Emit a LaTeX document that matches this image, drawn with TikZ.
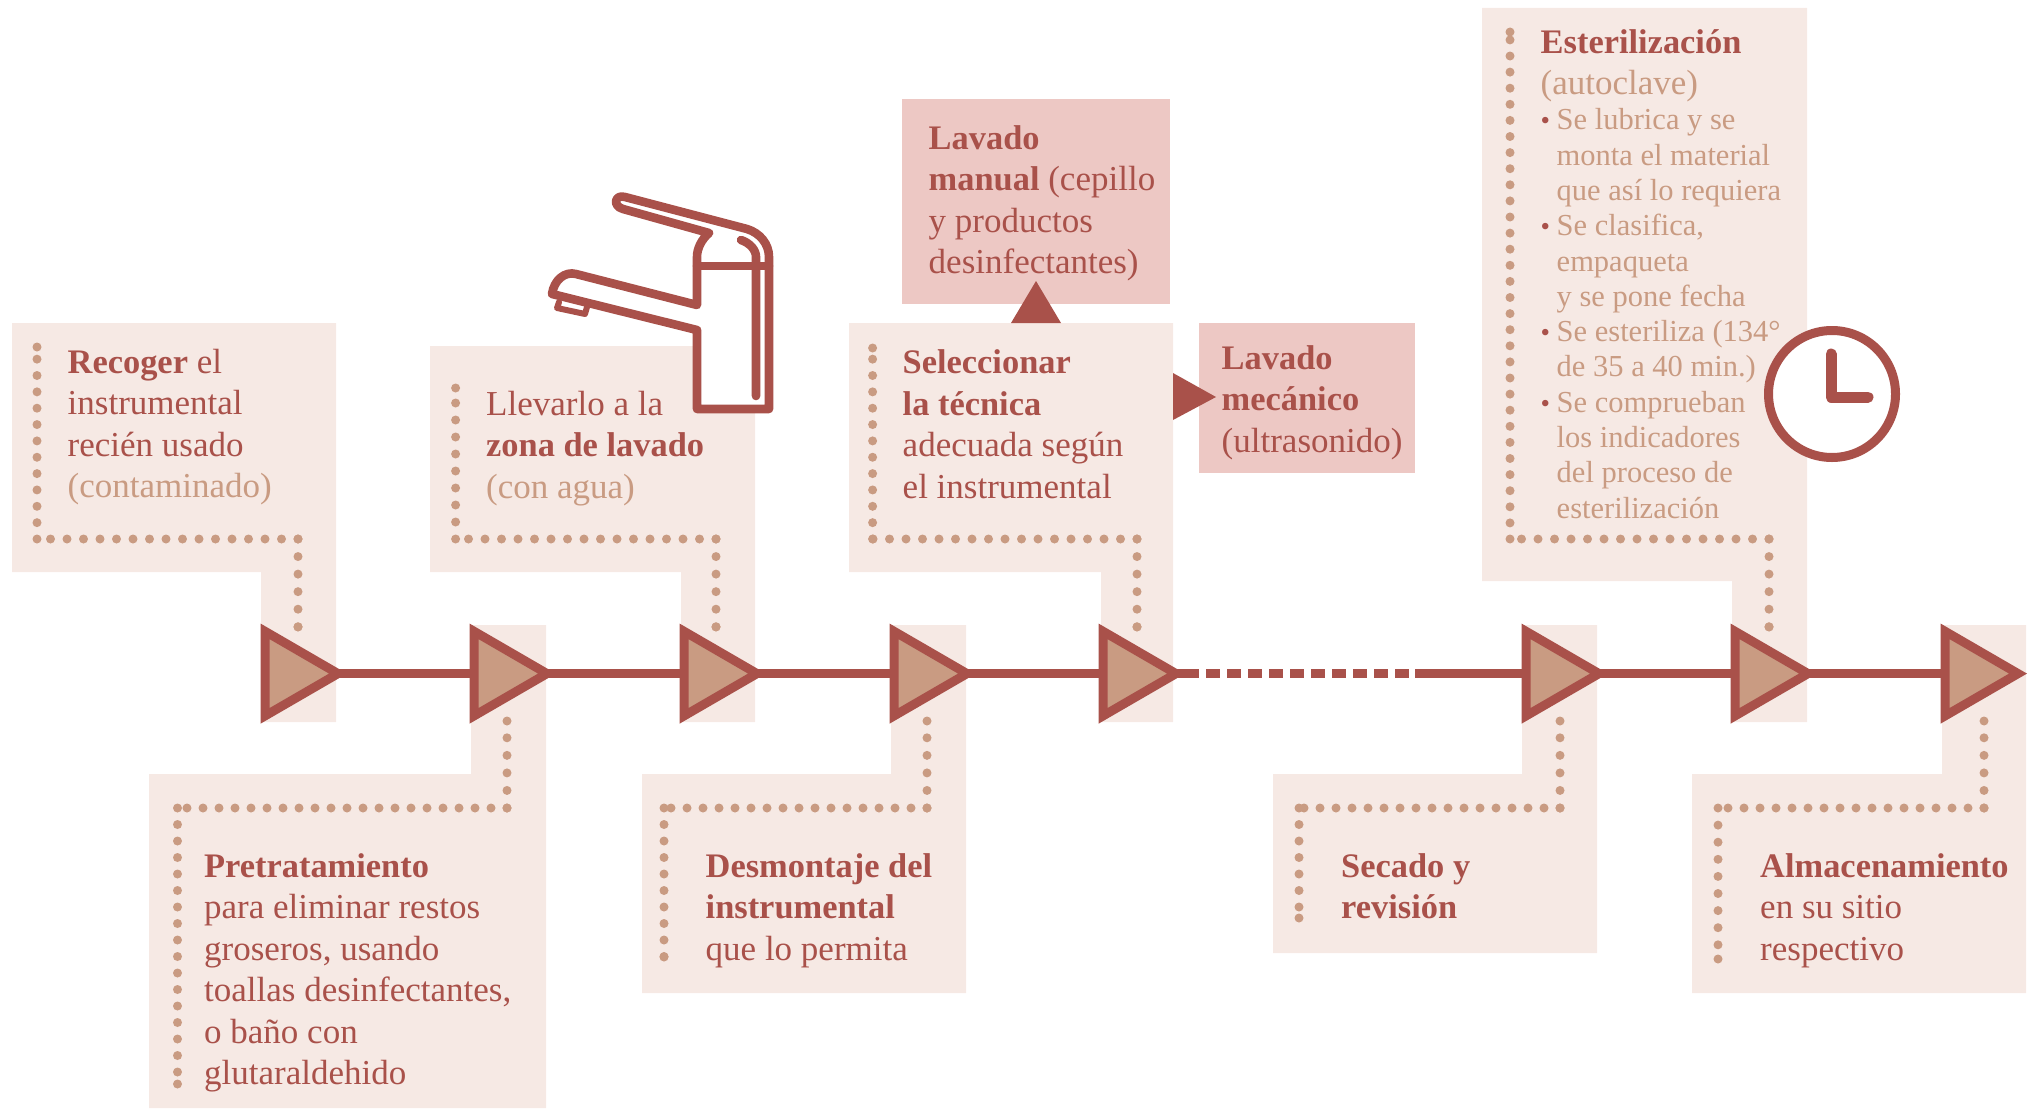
\documentclass[tikz,border=0pt]{standalone}
\usepackage{fontspec}
\setmainfont{Liberation Serif}
\usetikzlibrary{shapes.geometric}
\definecolor{rojo}{HTML}{A9514A}
\definecolor{tostado}{HTML}{C99B82}
\definecolor{fondo}{HTML}{F6E9E4}
\definecolor{rosa}{HTML}{EDC8C4}
\newcommand{\tost}[1]{\textcolor{tostado}{#1}}
\newcommand{\negr}[1]{{\fontsize{34.4}{41.5}\selectfont\bfseries #1}}
\newcommand{\vin}{\makebox[16pt][l]{\textcolor{rojo}{\fontsize{27}{22}\selectfont•}}}
\tikzset{
  paso/.style={shape=isosceles triangle,isosceles triangle stretches,shape border rotate=0,
    minimum width=84.6pt,minimum height=73pt,inner sep=0pt,outer sep=0pt,
    draw=rojo,line width=9pt,fill=tostado,anchor=lower side},
  linea/.style={draw=rojo,line width=8.3pt},
  puntos/.style={draw=tostado,line width=9pt,line cap=round,dash pattern=on 0pt off #1},
  texto/.style={anchor=north west,inner sep=0pt,align=left,text=rojo,
    font=\fontsize{35}{41.5}\selectfont},
  lista/.style={anchor=north west,inner sep=0pt,align=left,text=tostado,
    font=\fontsize{30.5}{35.3}\selectfont},
  icono/.style={draw=rojo,line width=8.6pt,line join=round,line cap=round}
}
% cadena de puntos: extremo, esquina, esquina, extremo, paso lateral, paso de la fila
\newcommand{\cadena}[6]{
  \draw[puntos=#5] #2 -- #1;
  \draw[puntos=#6] #3 -- #2;
  \draw[puntos=17.55pt] #3 -- #4;
  \fill[tostado] #1 circle (4.5) #4 circle (4.5);
}
\begin{document}
\begin{tikzpicture}[x=1pt,y=-1pt]
    \useasboundingbox (0,0) rectangle (2033,1108);

    % fondos
    \fill[fondo] (12,323) -- (336,323) -- (336,722) -- (261,722) -- (261,572) -- (12,572) -- cycle;
    \fill[fondo] (471,625) -- (546,625) -- (546,1108) -- (149,1108) -- (149,774) -- (471,774) -- cycle;
    \fill[fondo] (430,346) -- (755,346) -- (755,722) -- (681,722) -- (681,572) -- (430,572) -- cycle;
    \fill[fondo] (891,625) -- (966,625) -- (966,993) -- (642,993) -- (642,774) -- (891,774) -- cycle;
    \fill[fondo] (849,323) -- (1173,323) -- (1173,722) -- (1101,722) -- (1101,572) -- (849,572) -- cycle;
    \fill[fondo] (1522,625) -- (1597,625) -- (1597,953) -- (1273,953) -- (1273,774) -- (1522,774) -- cycle;
    \fill[fondo] (1482,8) -- (1807,8) -- (1807,722) -- (1732,722) -- (1732,581) -- (1482,581) -- cycle;
    \fill[fondo] (1942,625) -- (2026,625) -- (2026,993) -- (1692,993) -- (1692,774) -- (1942,774) -- cycle;
    \fill[rosa] (902,99) rectangle (1170,304);
    \fill[rosa] (1199,323) rectangle (1415,473);

    % triangulos pequenos
    \fill[rojo] (1011,323) -- (1036,281) -- (1061,323) -- cycle;
    \fill[rojo] (1173,373) -- (1216,397) -- (1173,420) -- cycle;

    % linea de tiempo
    \node[paso] (t1) at (265,673.6) {};
    \node[paso] (t2) at (474,673.6) {};
    \node[paso] (t3) at (684,673.6) {};
    \node[paso] (t4) at (894,673.6) {};
    \node[paso] (t5) at (1103,673.6) {};
    \node[paso] (t6) at (1526,673.6) {};
    \node[paso] (t7) at (1735,673.6) {};
    \node[paso] (t8) at (1945,673.6) {};

    \coordinate (corteA) at (1198.6,673.6);
    \coordinate (corteB) at (1206,673.6);
    \coordinate (corteC) at (1409,673.6);
    \coordinate (corteD) at (1415,673.6);

    \draw[linea] (t1.apex) -- (t2.lower side);
    \draw[linea] (t2.apex) -- (t3.lower side);
    \draw[linea] (t3.apex) -- (t4.lower side);
    \draw[linea] (t4.apex) -- (t5.lower side);
    \draw[linea] (t5.apex) -- (corteA);
    \draw[linea,dash pattern=on 14pt off 7pt] (corteB) -- (corteC);
    \draw[linea] (corteD) -- (t6.lower side);
    \draw[linea] (t6.apex) -- (t7.lower side);
    \draw[linea] (t7.apex) -- (t8.lower side);

    % puntos
    \cadena{(37,347)}{(37,539)}{(298,539)}{(298,627)}{16.35pt}{16.5pt}
    \cadena{(177.5,1084)}{(177.5,808)}{(507,808)}{(507,721)}{16.5pt}{16pt}
    \cadena{(455.6,388)}{(455.6,539)}{(716,539)}{(716,627)}{17pt}{16.5pt}
    \cadena{(664,957)}{(664,808)}{(927,808)}{(927,721)}{16.5pt}{16pt}
    \cadena{(872.6,348)}{(872.6,539)}{(1137,539)}{(1137,627)}{16.35pt}{16.5pt}
    \cadena{(1299,918)}{(1299,808)}{(1560,808)}{(1560,721)}{16.5pt}{16pt}
    \cadena{(1510,32)}{(1510,539)}{(1769,539)}{(1769,627)}{16.1pt}{16.5pt}
    \cadena{(1718,959)}{(1718,808)}{(1984,808)}{(1984,721)}{17.1pt}{16pt}

    % grifo
    \filldraw[icono,fill=white] (709,233) -- (623,209)
        .. controls (612,206) and (615,194) .. (625,197) -- (747,229)
        .. controls (760,233) and (769,244) .. (769,257) -- (769,409) -- (697,409) -- (697,330) -- (552,294)
        .. controls (554,280) and (565,271) .. (576,274) -- (697,305) -- (697,257)
        .. controls (697,248) and (702,239) .. (709,233);
    \draw[icono] (697,266) -- (769,266);
    \draw[icono] (741,240) .. controls (750,243) and (756,250) .. (756,257) -- (756,396);
    \draw[icono,line width=6pt] (559,302) -- (557,308) -- (585,314) -- (587,307);

    % reloj
    \filldraw[draw=rojo,line width=9pt,fill=white] (1832,394) circle (63.5);
    \draw[draw=rojo,line width=11pt,line cap=round,line join=round] (1831,354) -- (1831,397) -- (1868,397);

    % textos
    \node[texto] (recoger) at (67.5,349) {\negr{Recoger} el\\instrumental\\recién usado\\\tost{(contaminado)}};
    \node[texto] (pretrat) at (204,853) {\negr{Pretratamiento}\\para eliminar restos\\groseros, usando\\toallas desinfectantes,\\o baño con\\glutaraldehido};
    \node[texto] (llevar) at (486,391) {Llevarlo a la\\\negr{zona de lavado}\\\tost{(con agua)}};
    \node[texto] (desmonta) at (705.5,853) {\negr{Desmontaje del}\\\negr{instrumental}\\que lo permita};
    \node[texto] (selecc) at (902.5,349.5) {\negr{Seleccionar}\\\negr{la técnica}\\adecuada según\\el instrumental};
    \node[texto] (secado) at (1341,853) {\negr{Secado y}\\\negr{revisión}};
    \node[texto] (almacen) at (1760,853) {\negr{Almacenamiento}\\en su sitio\\respectivo};
    \node[texto] (manual) at (928.5,125) {\negr{Lavado}\\\negr{manual} (cepillo\\y productos\\desinfectantes)};
    \node[texto] (mecanico) at (1221.5,345) {\negr{Lavado}\\\negr{mecánico}\\(ultrasonido)};
    \node[texto] (ester) at (1540.5,29) {\negr{Esterilización}\\\tost{(autoclave)}};
    \node[lista] (pasos) at (1540.5,108.5) {\vin Se lubrica y se\\\hspace*{16pt}monta el material\\\hspace*{16pt}que así lo requiera\\\vin Se clasifica,\\\hspace*{16pt}empaqueta\\\hspace*{16pt}y se pone fecha\\\vin Se esteriliza (134°\\\hspace*{16pt}de 35 a 40 min.)\\\vin Se comprueban\\\hspace*{16pt}los indicadores\\\hspace*{16pt}del proceso de\\\hspace*{16pt}esterilización};

\end{tikzpicture}
\end{document}
